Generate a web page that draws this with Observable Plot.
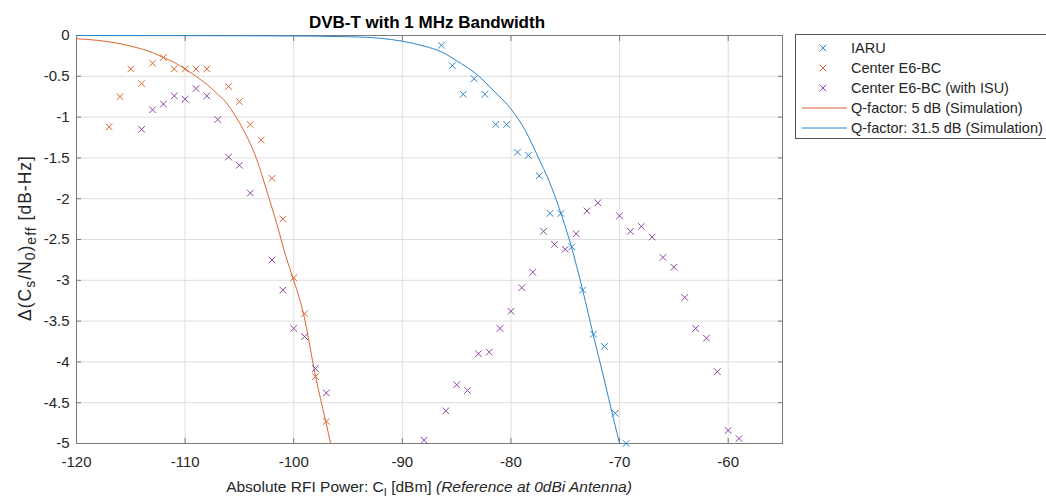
<!DOCTYPE html>
<html><head><meta charset="utf-8">
<script src="https://cdn.jsdelivr.net/npm/d3@7"></script>
<script src="https://cdn.jsdelivr.net/npm/@observablehq/plot@0.6"></script>
<style>
html,body{margin:0;padding:0;background:#fff;overflow:hidden;}
#wrap{position:relative;width:1046px;height:498px;background:#fff;}
</style></head><body><div id="wrap"></div>
<script>
// ---- tick values ----
const xTicks = [-120, -110, -100, -90, -80, -70, -60];
const yTicks = [0, -0.5, -1, -1.5, -2, -2.5, -3, -3.5, -4, -4.5, -5];

// ---- measured series ----
const iaruX = [-86.4, -85.4, -84.4, -83.4, -82.4, -81.4, -80.4, -79.4, -78.4, -77.4, -76.4, -75.4, -74.4, -73.4, -72.4, -71.4, -70.4, -69.4];
const iaruY = [-0.12, -0.37, -0.72, -0.53, -0.72, -1.09, -1.09, -1.43, -1.47, -1.72, -2.18, -2.18, -2.59, -3.12, -3.66, -3.81, -4.63, -5.0];

const e6X = [-117, -116, -115, -114, -113, -112, -111, -110, -109, -108, -106, -105, -104, -103, -102, -101, -100, -99, -98, -97];
const e6Y = [-1.12, -0.75, -0.41, -0.59, -0.34, -0.27, -0.41, -0.41, -0.41, -0.41, -0.625, -0.81, -1.09, -1.28, -1.75, -2.25, -2.97, -3.41, -4.18, -4.73];

const isuX = [-114, -113, -112, -111, -110, -109, -108, -107, -106, -105, -104, -102, -101, -100, -99, -98, -97,
  -88, -86, -85, -84, -83, -82, -81, -80, -79, -78, -77, -76, -75, -74, -73, -72,
  -70, -69, -68, -67, -66, -65, -64, -63, -62, -61, -60, -59];
const isuY = [-1.15, -0.91, -0.84, -0.74, -0.78, -0.65, -0.74, -1.03, -1.49, -1.59, -1.93, -2.75, -3.12, -3.59, -3.69, -4.08, -4.38,
  -4.96, -4.6, -4.28, -4.35, -3.90, -3.88, -3.59, -3.38, -3.09, -2.90, -2.40, -2.56, -2.62, -2.43, -2.15, -2.05,
  -2.21, -2.40, -2.34, -2.47, -2.72, -2.84, -3.21, -3.59, -3.71, -4.12, -4.84, -4.94];

// ---- simulation curves ----
const q5X = [-120, -118, -116, -114.7, -113, -112, -111, -110, -108.9, -107.9, -107, -106.1, -105.5, -104.9, -104.2, -103.6, -103, -102.4, -101.8, -101.3, -100.9, -100.1, -99.1, -98, -97.07, -96.6];
const q5Y = [-0.04, -0.06, -0.10, -0.14, -0.21, -0.27, -0.33, -0.41, -0.51, -0.61, -0.72, -0.84, -0.96, -1.09, -1.27, -1.45, -1.68, -1.94, -2.2, -2.43, -2.63, -2.96, -3.41, -4.17, -4.72, -5.0];

const q31X = [-120, -105, -100, -95, -92, -90, -88, -86.4, -85, -83.3, -81.5, -80, -78.7, -77.5, -76.5, -75.4, -74.5, -73.4, -72.4, -71.5, -70.5, -70.0];
const q31Y = [0, -0.003, -0.006, -0.015, -0.035, -0.07, -0.13, -0.20, -0.31, -0.46, -0.69, -0.90, -1.16, -1.49, -1.78, -2.18, -2.56, -3.12, -3.68, -4.17, -4.73, -5.0];

const seriesNames = ["IARU", "Center E6-BC", "Center E6-BC (with ISU)", "Q-factor: 5 dB (Simulation)", "Q-factor: 31.5 dB (Simulation)"];
const colors = {blue: "#2a86cc", orange: "#dc6530", purple: "#8a44a0"};

const zip = (xs, ys) => xs.map((x, i) => ({x, y: ys[i]}));
const iaru = zip(iaruX, iaruY), e6 = zip(e6X, e6Y), isu = zip(isuX, isuY);
const q5 = zip(q5X, q5Y), q31 = zip(q31X, q31Y);

const FONT = "'Liberation Sans', Arial, Helvetica, sans-serif";
const W = 1046, H = 498, mL = 76, mR = 264, mT = 35, mB = 55;
const axisCol = "#262626", frameCol = "#7a7a7a", gridCol = "#dedede";
const fmt = d => String(d);

const chart = Plot.plot({
  width: W, height: H,
  marginLeft: mL, marginRight: mR, marginTop: mT, marginBottom: mB,
  x: {domain: [-120, -55]},
  y: {domain: [-5, 0]},
  style: {fontFamily: FONT, fontSize: "15px", color: axisCol, background: "white", overflow: "visible"},
  marks: [
    Plot.gridX(xTicks, {stroke: gridCol, strokeOpacity: 1}),
    Plot.gridY(yTicks, {stroke: gridCol, strokeOpacity: 1}),
    Plot.frame({stroke: frameCol}),
    Plot.axisX(xTicks, {anchor: "bottom", tickSize: 0, tickPadding: 13, tickFormat: fmt, label: null, fontSize: 15}),
    Plot.axisY(yTicks, {anchor: "left", tickSize: 0, tickPadding: 7, tickFormat: fmt, label: null, fontSize: 15}),
    Plot.axisX(xTicks, {anchor: "bottom", tickSize: -5, tickFormat: () => "", label: null, stroke: frameCol}),
    Plot.axisX(xTicks, {anchor: "top", tickSize: -5, tickFormat: () => "", label: null, stroke: frameCol}),
    Plot.axisY(yTicks, {anchor: "left", tickSize: -5, tickFormat: () => "", label: null, stroke: frameCol}),
    Plot.axisY(yTicks, {anchor: "right", tickSize: -5, tickFormat: () => "", label: null, stroke: frameCol}),
    Plot.line(q5, {x: "x", y: "y", stroke: colors.orange, strokeWidth: 1, curve: "monotone-x"}),
    Plot.line(q31, {x: "x", y: "y", stroke: colors.blue, strokeWidth: 1, curve: "monotone-x"}),
    Plot.dot(iaru, {x: "x", y: "y", symbol: "times", r: 3.1, stroke: colors.blue, strokeWidth: 1}),
    Plot.dot(e6, {x: "x", y: "y", symbol: "times", r: 3.1, stroke: colors.orange, strokeWidth: 1}),
    Plot.dot(isu, {x: "x", y: "y", symbol: "times", r: 3.1, stroke: colors.purple, strokeWidth: 1})
  ]
});
document.getElementById("wrap").appendChild(chart);

const svg = d3.select(chart);
const cx = mL + (W - mL - mR) / 2;

// Title
svg.append("text").attr("x", cx - 2).attr("y", 28).attr("text-anchor", "middle")
  .attr("font-family", FONT).attr("font-size", 17).attr("font-weight", "bold").attr("fill", "#000")
  .text("DVB-T with 1 MHz Bandwidth");

// X label
const xl = svg.append("text").attr("x", cx).attr("y", 492).attr("text-anchor", "middle")
  .attr("font-family", FONT).attr("font-size", 15.5).attr("fill", axisCol);
xl.append("tspan").text("Absolute RFI Power: C");
xl.append("tspan").attr("font-size", 11).attr("dy", 4).text("I");
xl.append("tspan").attr("dy", -4).text(" [dBm] ");
xl.append("tspan").attr("font-style", "italic").text("(Reference at 0dBi Antenna)");

// Y label
const yl = svg.append("text").attr("transform", `translate(31,238) rotate(-90)`)
  .attr("text-anchor", "middle").attr("font-family", FONT).attr("font-size", 17.5)
  .attr("letter-spacing", 1).attr("fill", axisCol);
yl.append("tspan").text("\u0394(C");
yl.append("tspan").attr("font-size", 14).attr("dy", 4).text("s");
yl.append("tspan").attr("dy", -4).text("/N");
yl.append("tspan").attr("font-size", 14).attr("dy", 4).text("0");
yl.append("tspan").attr("dy", -4).text(")");
yl.append("tspan").attr("font-size", 14).attr("dy", 5).text("eff");
yl.append("tspan").attr("dy", -5).text(" [dB-Hz]");

// Legend
const lg = svg.append("g");
lg.append("rect").attr("x", 795.5).attr("y", 34.5).attr("width", 300).attr("height", 104)
  .attr("fill", "white").attr("stroke", "#555");
const rowY = [48, 68, 88, 108, 128];
const kinds = [
  {type: "dot", color: colors.blue},
  {type: "dot", color: colors.orange},
  {type: "dot", color: colors.purple},
  {type: "line", color: colors.orange},
  {type: "line", color: colors.blue}
];
kinds.forEach((k, i) => {
  const y = rowY[i];
  if (k.type === "dot") {
    lg.append("path").attr("transform", `translate(823,${y})`)
      .attr("d", d3.symbol(d3.symbolTimes, Math.PI * 3.1 * 3.1)())
      .attr("fill", "none").attr("stroke", k.color).attr("stroke-width", 1);
  } else {
    lg.append("line").attr("x1", 802).attr("x2", 847).attr("y1", y).attr("y2", y)
      .attr("stroke", k.color).attr("stroke-width", 1);
  }
  lg.append("text").attr("x", 851).attr("y", y).attr("dy", "0.35em").attr("text-anchor", "start")
    .attr("font-family", FONT).attr("font-size", 14.5).attr("fill", axisCol).text(seriesNames[i]);
});
</script></body></html>
